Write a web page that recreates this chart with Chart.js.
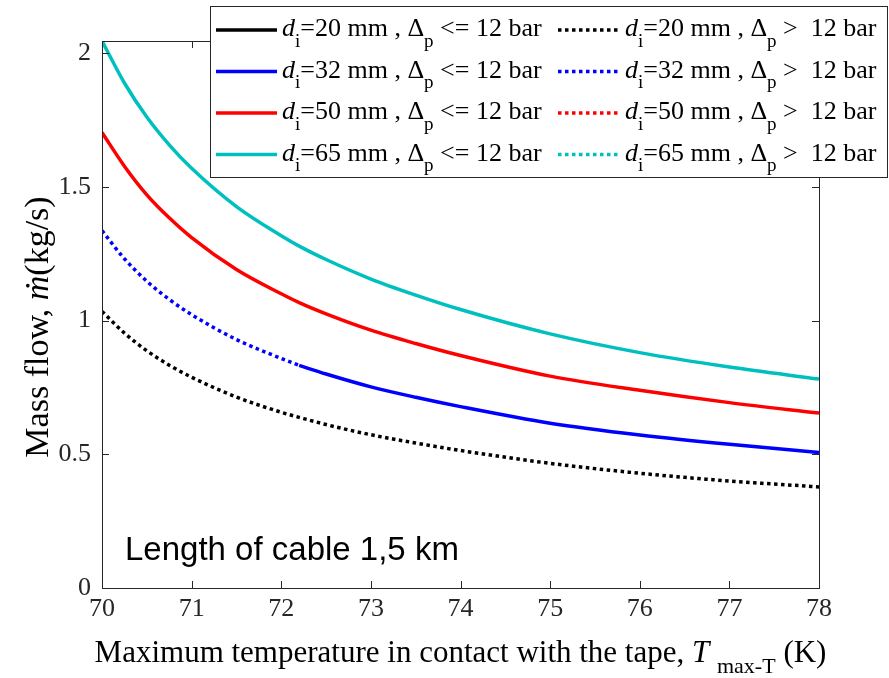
<!DOCTYPE html>
<html>
<head>
<meta charset="utf-8">
<script src="https://cdn.jsdelivr.net/npm/chart.js@4.4.1/dist/chart.umd.min.js"></script>
<style>
  html, body { margin: 0; padding: 0; background: #fff; }
</style>
</head>
<body>
<canvas id="myChart" width="889" height="678"></canvas>
<script>
// maximum tape temperature (K) and mass flow (kg/s) per inner diameter, cable 1.5 km
const temps = [70, 70.25, 70.5, 70.75, 71, 71.5, 72, 72.2, 72.5, 73, 73.5, 74, 75, 76, 77, 78];
const flow20 = [1.034, 0.953, 0.887, 0.833, 0.788, 0.714, 0.657, 0.638, 0.611, 0.573, 0.542, 0.514, 0.466, 0.429, 0.400, 0.378];
const flow32 = [1.336, 1.231, 1.147, 1.079, 1.022, 0.929, 0.858, 0.832, 0.800, 0.752, 0.713, 0.678, 0.616, 0.572, 0.537, 0.507];
const flow50 = [1.703, 1.577, 1.470, 1.384, 1.310, 1.191, 1.100, 1.067, 1.025, 0.964, 0.914, 0.869, 0.792, 0.739, 0.693, 0.654];
const flow65 = [2.045, 1.888, 1.761, 1.657, 1.569, 1.426, 1.317, 1.278, 1.228, 1.155, 1.095, 1.041, 0.950, 0.880, 0.826, 0.781];
const split32 = 7; // from this index on the 32 mm pipe stays under 12 bar
const diameters = ["20", "32", "50", "65"];
const xTicks = [70, 71, 72, 73, 74, 75, 76, 77, 78];
const yTicks = [0, 0.5, 1, 1.5, 2];

const colors = ["#000000", "#0000ff", "#ff0000", "rgb(0,191,191)"];
const SERIF = '"Liberation Serif", "Times New Roman", serif';
const AXIS = "#262626";

function pts(vals, from, to) {
  return temps.slice(from, to).map((t, i) => ({ x: t, y: vals[from + i] }));
}

// one solid (dp <= 12 bar) and one dotted (dp > 12 bar) line per diameter
const parts = [
  [[], pts(flow20, 0)],
  [pts(flow32, split32), pts(flow32, 0, split32 + 1)],
  [pts(flow50, 0), []],
  [pts(flow65, 0), []]
];

const datasets = [];
diameters.forEach((d, i) => {
  ["<=", ">"].forEach((op, j) => {
    datasets.push({
      label: "d_i=" + d + " mm , dp " + op + " 12 bar",
      data: parts[i][j],
      borderColor: colors[i],
      borderWidth: 3.5,
      borderDash: j ? [3.5, 3.5] : [],
      borderCapStyle: "butt",
      pointRadius: 0,
      cubicInterpolationMode: "monotone",
      fill: false
    });
  });
});

// text with italic / subscript pieces, returns end x
function richText(ctx, pieces, x, y, size, draw, subDrop) {
  pieces.forEach(p => {
    const fs = p.sub ? Math.round(size * 0.72) : size;
    ctx.font = (p.italic ? "italic " : "") + fs + "px " + SERIF;
    if (draw) ctx.fillText(p.t, x, y + (p.sub ? size * (subDrop || 0.42) : 0));
    x += ctx.measureText(p.t).width;
  });
  return x;
}

const decor = {
  id: "decor",
  afterDraw(chart) {
    const { ctx, chartArea: a, scales: { x, y } } = chart;
    ctx.save();

    // axes box with inward ticks
    ctx.strokeStyle = AXIS;
    ctx.lineWidth = 1;
    ctx.strokeRect(Math.round(a.left) + 0.5, Math.round(a.top) + 0.5,
      Math.round(a.right - a.left), Math.round(a.bottom - a.top));
    ctx.beginPath();
    xTicks.forEach(v => {
      const px = Math.round(x.getPixelForValue(v)) + 0.5;
      ctx.moveTo(px, a.bottom); ctx.lineTo(px, a.bottom - 7);
      ctx.moveTo(px, a.top); ctx.lineTo(px, a.top + 7);
    });
    yTicks.forEach(v => {
      const py = Math.round(y.getPixelForValue(v)) + 0.5;
      ctx.moveTo(a.left, py); ctx.lineTo(a.left + 7, py);
      ctx.moveTo(a.right, py); ctx.lineTo(a.right - 7, py);
    });
    ctx.stroke();

    ctx.fillStyle = "#000";
    ctx.textBaseline = "alphabetic";
    ctx.textAlign = "left";

    // x axis title
    const xt = [
      { t: "Maximum temperature in contact with the tape, " },
      { t: "T", italic: true },
      { t: " " },
      { t: "max-T", sub: true },
      { t: " (K)" }
    ];
    const w = richText(ctx, xt, 0, 0, 31, false);
    richText(ctx, xt, (a.left + a.right) / 2 - w / 2, 662, 31, true, 0.36);

    // y axis title
    ctx.save();
    ctx.translate(48, 327);
    ctx.rotate(-Math.PI / 2);
    const yt = [{ t: "Mass flow, " }, { t: "ṁ", italic: true }, { t: "(kg/s)" }];
    const wy = richText(ctx, yt, 0, 0, 34, false);
    richText(ctx, yt, -wy / 2, 0, 34, true);
    ctx.restore();

    // annotation
    ctx.font = '33px "Liberation Sans", Arial, sans-serif';
    ctx.fillText("Length of cable 1,5 km", 125, 560);

    // legend
    const box = { l: 210.5, t: 6.5, r: 887.5, b: 177.5 };
    ctx.fillStyle = "#fff";
    ctx.fillRect(box.l, box.t, box.r - box.l, box.b - box.t);
    ctx.strokeStyle = AXIS;
    ctx.strokeRect(box.l, box.t, box.r - box.l, box.b - box.t);
    const cols = [{ s: 216, e: 277, tx: 282 }, { s: 558, e: 619, tx: 625 }];
    const rowY = [30, 71.5, 113, 154.5];
    diameters.forEach((d, i) => {
      cols.forEach((c, j) => {
        const ds = chart.data.datasets[i * 2 + j];
        const ly = rowY[i];
        ctx.beginPath();
        ctx.strokeStyle = ds.borderColor;
        ctx.lineWidth = ds.borderWidth;
        ctx.setLineDash(ds.borderDash);
        ctx.moveTo(c.s, ly); ctx.lineTo(c.e, ly);
        ctx.stroke();
        ctx.setLineDash([]);
        ctx.fillStyle = "#000";
        richText(ctx, [
          { t: "d", italic: true },
          { t: "i", sub: true },
          { t: "=" + d + " mm , Δ" },
          { t: "p", sub: true },
          { t: j ? " >  12 bar" : " <= 12 bar" }
        ], c.tx, ly + 6, 26, true);
      });
    });
    ctx.restore();
  }
};

const tickFont = { family: SERIF, size: 26 };

new Chart(document.getElementById("myChart").getContext("2d"), {
  type: "line",
  data: { datasets: datasets },
  options: {
    responsive: false,
    animation: false,
    layout: { padding: { top: 41, right: 70, left: 0, bottom: 0 } },
    plugins: { legend: { display: false }, tooltip: { enabled: false } },
    scales: {
      x: {
        type: "linear",
        min: xTicks[0],
        max: xTicks[xTicks.length - 1],
        grid: { display: false, drawTicks: false },
        border: { display: false },
        ticks: { font: tickFont, color: AXIS, padding: 6, maxRotation: 0, callback: v => String(v) },
        afterBuildTicks: s => { s.ticks = xTicks.map(v => ({ value: v })); },
        afterFit: s => { s.height = 90; }
      },
      y: {
        min: 0,
        max: Math.max(...flow65),
        grid: { display: false, drawTicks: false },
        border: { display: false },
        ticks: { font: tickFont, color: AXIS, padding: 11, callback: v => String(v) },
        afterBuildTicks: s => { s.ticks = yTicks.map(v => ({ value: v })); },
        afterFit: s => { s.width = 102; }
      }
    }
  },
  plugins: [decor]
});
</script>
</body>
</html>
